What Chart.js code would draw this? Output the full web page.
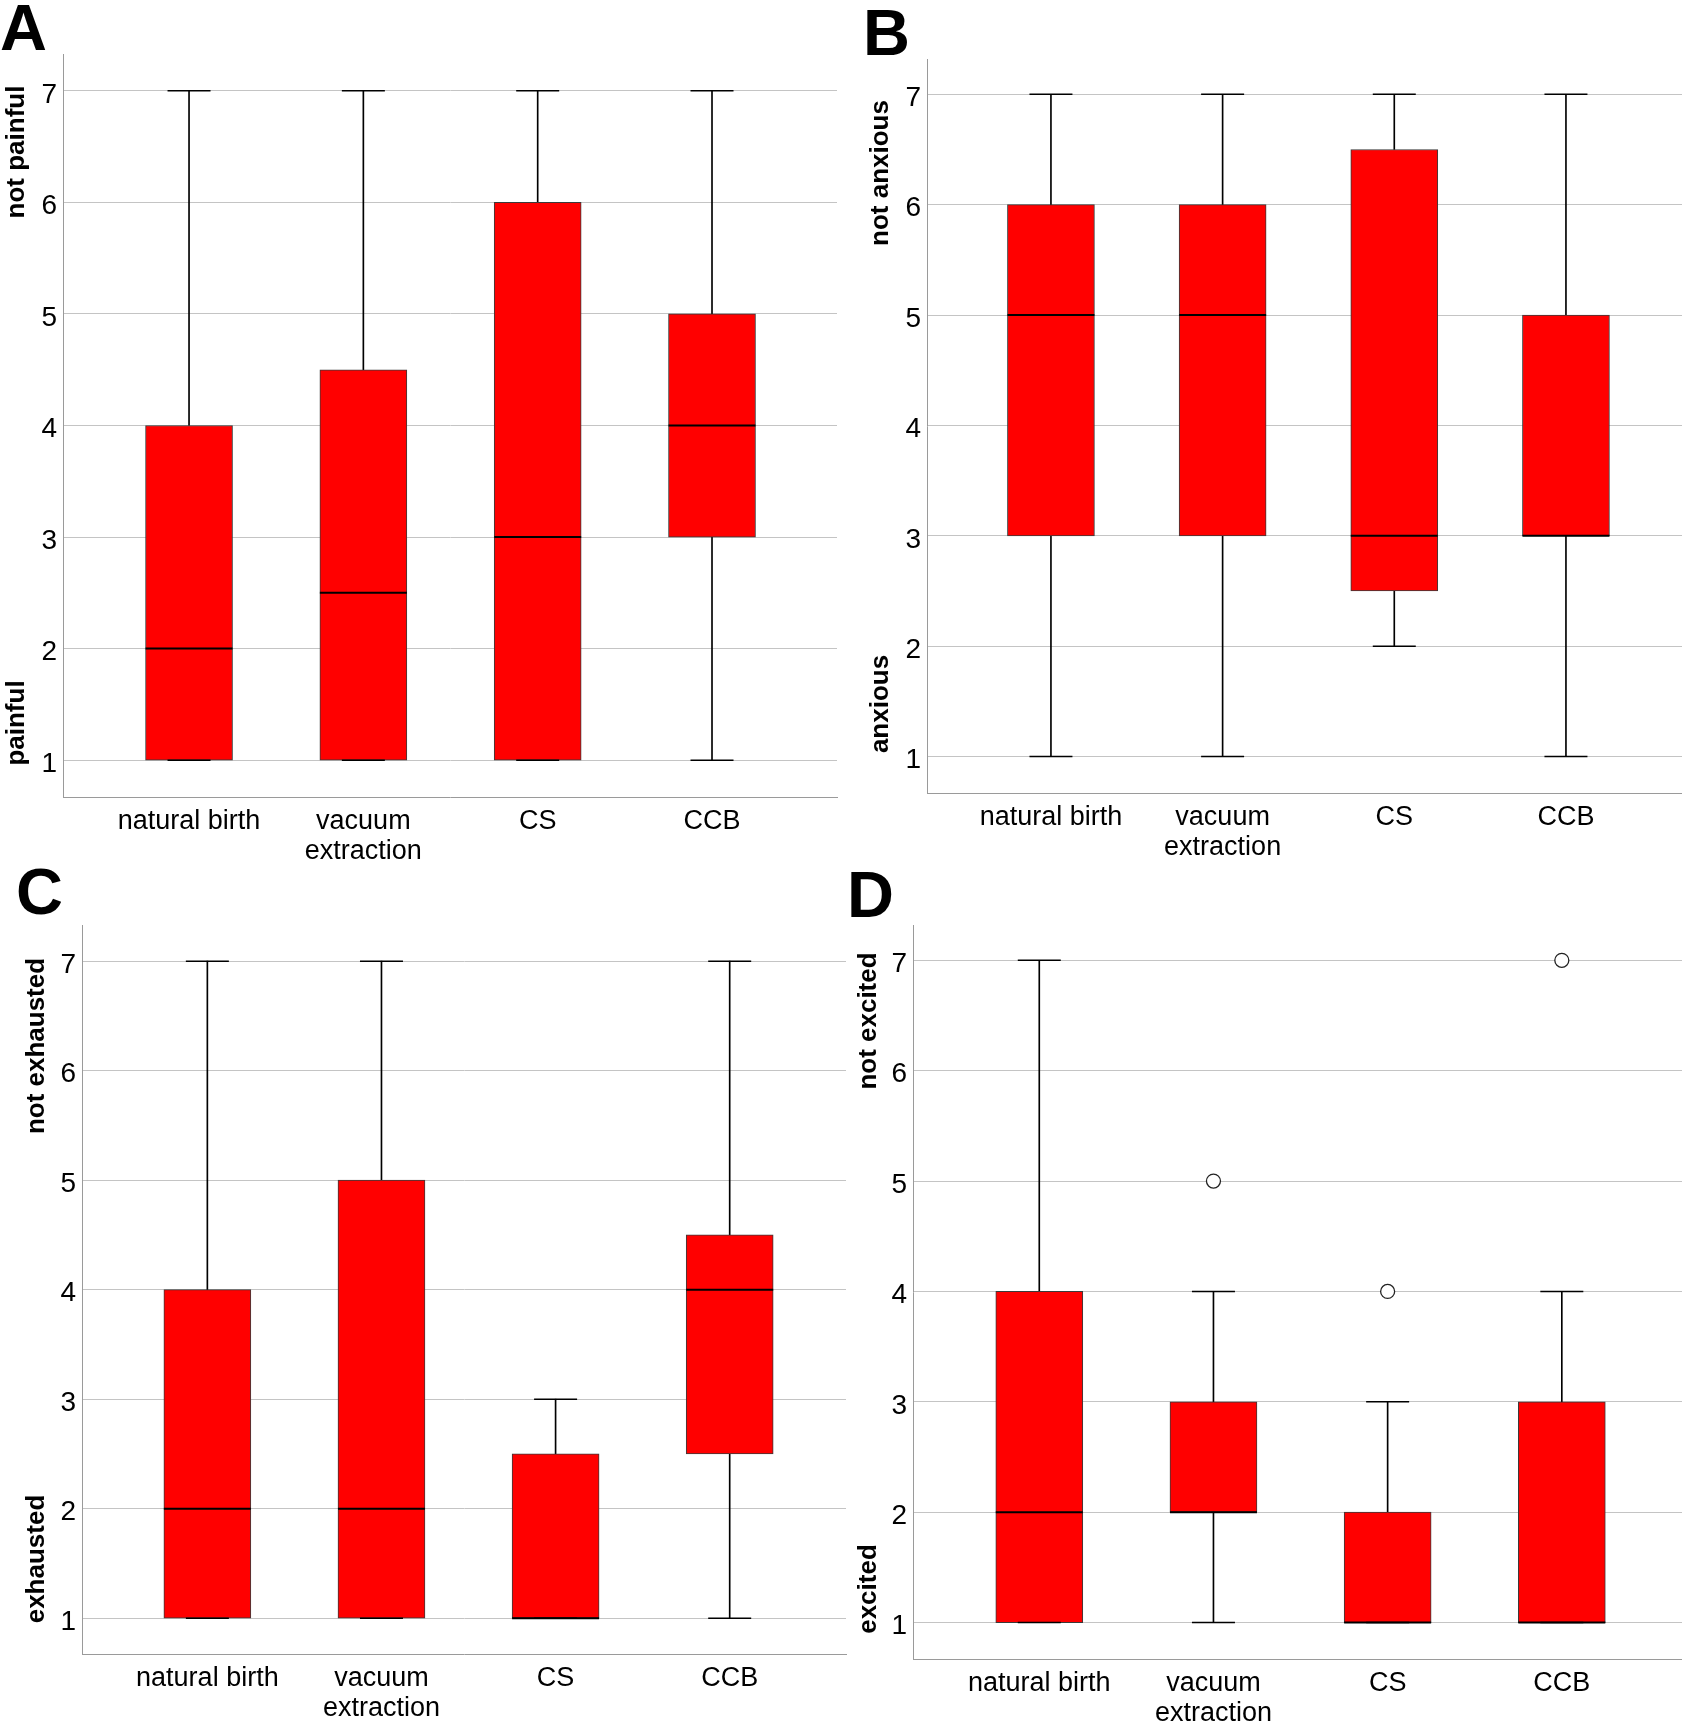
<!DOCTYPE html>
<html><head><meta charset="utf-8">
<script src="https://cdn.jsdelivr.net/npm/chart.js@4.4.1/dist/chart.umd.min.js"></script>
<style>
html,body{margin:0;padding:0;background:#fff;}
#wrap{position:relative;width:1682px;height:1725px;overflow:hidden;background:#fff;}
canvas{position:absolute;}
</style></head><body><div id="wrap"></div>
<script>
// ---------- data ----------
const categories = ['natural birth', ['vacuum', 'extraction'], 'CS', 'CCB'];
const yTicks = [1, 2, 3, 4, 5, 6, 7];

// A: pain
const painMin = [1, 1, 1, 1];
const painQ1 = [1, 1, 1, 3];
const painMedian = [2, 2.5, 3, 4];
const painQ3 = [4, 4.5, 6, 5];
const painMax = [7, 7, 7, 7];
const painOutliers = [[], [], [], []];

// B: anxiety
const anxMin = [1, 1, 2, 1];
const anxQ1 = [3, 3, 2.5, 3];
const anxMedian = [5, 5, 3, 3];
const anxQ3 = [6, 6, 6.5, 5];
const anxMax = [7, 7, 7, 7];
const anxOutliers = [[], [], [], []];

// C: exhaustion
const exhMin = [1, 1, 1, 1];
const exhQ1 = [1, 1, 1, 2.5];
const exhMedian = [2, 2, 1, 4];
const exhQ3 = [4, 5, 2.5, 4.5];
const exhMax = [7, 7, 3, 7];
const exhOutliers = [[], [], [], []];

// D: excitement
const excMin = [1, 1, 1, 1];
const excQ1 = [1, 2, 1, 1];
const excMedian = [2, 2, 1, 1];
const excQ3 = [4, 3, 2, 3];
const excMax = [7, 4, 3, 4];
const excOutliers = [[], [5], [4], [7]];

const panelLetters = ['A', 'B', 'C', 'D'];
const topTitles = ['not painful', 'not anxious', 'not exhausted', 'not excited'];
const bottomTitles = ['painful', 'anxious', 'exhausted', 'excited'];

// ---------- layout (global px) ----------
const FONT = "'Liberation Sans', Arial, Helvetica, sans-serif";
const panels = [
  { stats: [painMin, painQ1, painMedian, painQ3, painMax, painOutliers],
    canvas: [0, 0, 841, 890], area: [63, 54, 837, 797], xr: [-0.723, 3.717], yr: [0.67, 7.33],
    letterPos: [0, 50], titleX: 24, titleTopY: 152, titleBottomY: 723 },
  { stats: [anxMin, anxQ1, anxMedian, anxQ3, anxMax, anxOutliers],
    canvas: [841, 0, 841, 890], area: [927, 59, 1682, 793], xr: [-0.722, 3.676], yr: [0.67, 7.32],
    letterPos: [863, 55], titleX: 888, titleTopY: 173, titleBottomY: 704 },
  { stats: [exhMin, exhQ1, exhMedian, exhQ3, exhMax, exhOutliers],
    canvas: [0, 862, 848, 890], area: [82, 925, 846, 1654], xr: [-0.72, 3.668], yr: [0.673, 7.33],
    letterPos: [16, 914], titleX: 44, titleTopY: 1046, titleBottomY: 1559 },
  { stats: [excMin, excQ1, excMedian, excQ3, excMax, excOutliers],
    canvas: [841, 862, 841, 890], area: [913, 925, 1682, 1659], xr: [-0.725, 3.69], yr: [0.67, 7.32],
    letterPos: [847, 917], titleX: 876, titleTopY: 1021, titleBottomY: 1589 }
];

const X_AXIS_H = 80;
const wrap = document.getElementById('wrap');

function buildDatasets(s) {
  const [mn, q1, med, q3, mx, outl] = s;
  const idx = mn.map((_, i) => i);
  const outPts = [];
  outl.forEach((arr, i) => arr.forEach(v => outPts.push({ x: i, y: v })));
  return [
    { type: 'bar', label: 'lower whisker', data: idx.map(i => ({ x: i, y: [mn[i], q1[i]] })),
      barThickness: 1, backgroundColor: '#000', borderWidth: 0, grouped: false, order: 7 },
    { type: 'bar', label: 'upper whisker', data: idx.map(i => ({ x: i, y: [q3[i], mx[i]] })),
      barThickness: 1, backgroundColor: '#000', borderWidth: 0, grouped: false, order: 6 },
    { type: 'bar', label: 'box', data: idx.map(i => ({ x: i, y: [q1[i], q3[i]] })),
      barThickness: 87, backgroundColor: '#ff0000', borderColor: '#3a3a3a', borderWidth: 1,
      borderSkipped: false, grouped: false, order: 5 },
    { type: 'scatter', label: 'caps', data: idx.flatMap(i => [{ x: i, y: mn[i] }, { x: i, y: mx[i] }]),
      pointStyle: 'line', pointRadius: 21.5, borderColor: '#000', pointBorderColor: '#000',
      pointBorderWidth: 1.5, borderWidth: 1.5, order: 3 },
    { type: 'scatter', label: 'median', data: idx.map(i => ({ x: i, y: med[i] })),
      pointStyle: 'line', pointRadius: 43.5, borderColor: '#000', pointBorderColor: '#000',
      pointBorderWidth: 2, borderWidth: 2, order: 2 },
    { type: 'scatter', label: 'outliers', data: outPts,
      pointStyle: 'circle', pointRadius: 7, pointBackgroundColor: '#fff', backgroundColor: '#fff',
      pointBorderColor: '#222', borderColor: '#222', pointBorderWidth: 1.3, borderWidth: 1.3, order: 1 }
  ];
}

panels.forEach((p, k) => {
  const [cl, ct, cw, ch] = p.canvas;
  const [al, at, ar, ab] = p.area;
  const cv = document.createElement('canvas');
  cv.width = cw; cv.height = ch;
  cv.style.left = cl + 'px'; cv.style.top = ct + 'px';
  cv.style.width = cw + 'px'; cv.style.height = ch + 'px';
  wrap.appendChild(cv);

  const yAxisW = al - cl;
  const padTop = at - ct;
  const padRight = (cl + cw) - ar;
  const padBottom = (ct + ch) - ab - X_AXIS_H;

  const deco = {
    id: 'deco' + k,
    afterDraw(chart) {
      const ctx = chart.ctx;
      ctx.save();
      ctx.fillStyle = '#000';
      ctx.font = 'bold 65px ' + FONT;
      ctx.textAlign = 'left';
      ctx.textBaseline = 'alphabetic';
      ctx.fillText(panelLetters[k], p.letterPos[0] - cl, p.letterPos[1] - ct);
      ctx.font = 'bold 26px ' + FONT;
      ctx.textAlign = 'center';
      [[topTitles[k], p.titleTopY], [bottomTitles[k], p.titleBottomY]].forEach(([t, y]) => {
        ctx.save();
        ctx.translate(p.titleX - cl, y - ct);
        ctx.rotate(-Math.PI / 2);
        ctx.fillText(t, 0, 0);
        ctx.restore();
      });
      ctx.restore();
    }
  };

  new Chart(cv, {
    type: 'bar',
    data: { datasets: buildDatasets(p.stats) },
    options: {
      responsive: false,
      animation: false,
      events: [],
      layout: { autoPadding: false, padding: { left: 0, top: padTop, right: padRight, bottom: padBottom } },
      plugins: { legend: { display: false }, tooltip: { enabled: false }, title: { display: false } },
      scales: {
        x: {
          type: 'linear', offset: false, min: p.xr[0], max: p.xr[1],
          grid: { display: false, drawTicks: false, offset: false },
          border: { display: true, color: '#9a9a9a', width: 1 },
          afterBuildTicks: sc => { sc.ticks = categories.map((c, i) => ({ value: i })); },
          afterFit: sc => { sc.height = X_AXIS_H; },
          ticks: {
            autoSkip: false, maxRotation: 0, minRotation: 0, padding: 10,
            color: '#000', font: { family: FONT, size: 27, lineHeight: 30 / 27 },
            callback: v => categories[Math.round(v)]
          }
        },
        y: {
          type: 'linear', min: p.yr[0], max: p.yr[1],
          grid: { display: true, color: '#c4c4c4', lineWidth: 1, drawTicks: false },
          border: { display: true, color: '#9a9a9a', width: 1 },
          afterBuildTicks: sc => { sc.ticks = yTicks.map(v => ({ value: v })); },
          afterFit: sc => { sc.width = yAxisW; },
          ticks: {
            padding: 6, labelOffset: 4, color: '#000',
            font: { family: FONT, size: 28 },
            callback: v => String(v)
          }
        }
      }
    },
    plugins: [deco]
  });
});
</script>
</body></html>
